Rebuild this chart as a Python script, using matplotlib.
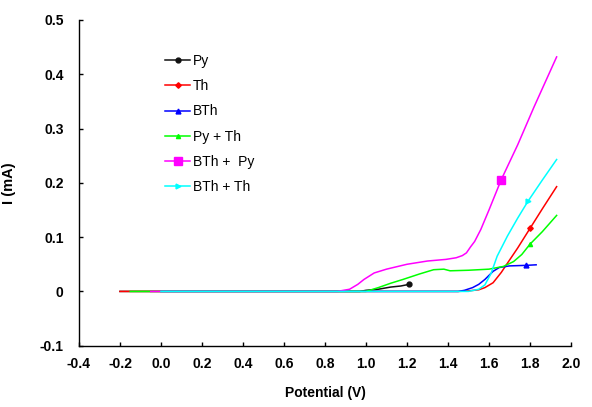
import matplotlib
matplotlib.use('Agg')
import matplotlib.pyplot as plt

plt.rcParams['font.family'] = ['Liberation Sans', 'DejaVu Sans']

# Data (potential in V, current in mA)
py_x = [-0.2, 0.97, 1.0, 1.06, 1.12, 1.17, 1.21]
py_y = [0, 0, 0.002, 0.004, 0.008, 0.010, 0.013]

th_x = [-0.2, 1.45, 1.5, 1.55, 1.58, 1.62, 1.66, 1.69, 1.74, 1.8, 1.86, 1.93]
th_y = [0, 0, 0.001, 0.003, 0.007, 0.016, 0.035, 0.052, 0.08, 0.116, 0.152, 0.193]

bth_x = [0.0, 1.45, 1.48, 1.52, 1.55, 1.58, 1.62, 1.65, 1.7, 1.78, 1.83]
bth_y = [0, 0, 0.002, 0.007, 0.013, 0.022, 0.037, 0.044, 0.047, 0.048, 0.049]

pyth_x = [-0.15, 1.0, 1.06, 1.12, 1.18, 1.26, 1.33, 1.38, 1.41, 1.5, 1.6,
          1.67, 1.72, 1.76, 1.8, 1.86, 1.93]
pyth_y = [0, 0, 0.007, 0.015, 0.022, 0.032, 0.040, 0.041, 0.038, 0.039, 0.041,
          0.046, 0.055, 0.068, 0.087, 0.11, 0.14]

bthpy_x = [-0.05, 0.86, 0.92, 0.96, 0.99, 1.04, 1.1, 1.2, 1.3, 1.39, 1.44, 1.47,
           1.49, 1.51, 1.53, 1.56, 1.6, 1.66, 1.74, 1.82, 1.93]
bthpy_y = [0, 0, 0.004, 0.013, 0.022, 0.034, 0.041, 0.05, 0.056, 0.059, 0.062, 0.066,
           0.071, 0.082, 0.092, 0.114, 0.15, 0.206, 0.27, 0.34, 0.432]

bthth_x = [0.0, 1.5, 1.55, 1.58, 1.61, 1.64, 1.69, 1.74, 1.79, 1.86, 1.93]
bthth_y = [0, 0, 0.004, 0.012, 0.033, 0.065, 0.102, 0.135, 0.166, 0.205, 0.243]

labels = ['Py', 'Th', 'BTh', 'Py + Th', 'BTh +  Py', 'BTh + Th']

x_ticks = [-0.4, -0.2, 0.0, 0.2, 0.4, 0.6, 0.8, 1.0, 1.2, 1.4, 1.6, 1.8, 2.0]
x_ticklabels = ['-0.4', '-0.2', '0.0', '0.2', '0.4', '0.6', '0.8', '1.0', '1.2',
                '1.4', '1.6', '1.8', '2.0']
y_ticks = [-0.1, 0, 0.1, 0.2, 0.3, 0.4, 0.5]
y_ticklabels = ['-0.1', '0', '0.1', '0.2', '0.3', '0.4', '0.5']

fig = plt.figure(figsize=(5.92, 4.07), dpi=100)
ax = fig.add_axes([0.1334, 0.1506, 0.8311, 0.8003])

# series: x, y, colour, marker, size, index of the one shown marker
series = [
    (py_x, py_y, '#111111', 'o', 3.5, [len(py_x) - 1]),
    (th_x, th_y, '#ff0000', 'D', 2.8, [9]),
    (bth_x, bth_y, '#0000ff', '^', 3.5, [9]),
    (pyth_x, pyth_y, '#00ff00', '^', 3, [14]),
    (bthpy_x, bthpy_y, '#ff00ff', 's', 5.5, [17]),
    (bthth_x, bthth_y, '#00ffff', '>', 3.5, [8]),
]

for (x, y, c, m, ms, me), lab in zip(series, labels):
    ax.plot(x, y, color=c, lw=1.1, marker=m, ms=ms, markevery=me, label=lab)

ax.set_xlim(-0.4, 2.0)
ax.set_ylim(-0.1, 0.5)
ax.set_xticks(x_ticks)
ax.set_xticklabels(x_ticklabels, fontweight='bold', fontsize=10)
ax.set_yticks(y_ticks)
ax.set_yticklabels(y_ticklabels, fontweight='bold', fontsize=10)
ax.tick_params(axis='x', direction='in', length=3, width=1, pad=8)
ax.tick_params(axis='y', direction='in', length=3, width=1, pad=11)

ax.spines['top'].set_visible(False)
ax.spines['right'].set_visible(False)
for s in ['left', 'bottom']:
    ax.spines[s].set_linewidth(1.0)

ax.set_xlabel('Potential (V)', fontweight='bold', fontsize=10)
ax.set_ylabel('I (mA)', fontweight='bold', fontsize=10.5)
ax.xaxis.set_label_coords(0.5, -0.123)
ax.yaxis.set_label_coords(-0.128, 0.5)

leg = ax.legend(loc='upper left', bbox_to_anchor=(0.175, 0.895), frameon=False,
                fontsize=10, handlelength=1.8, handletextpad=0.2,
                labelspacing=0.8, borderpad=0, borderaxespad=0)

fig.savefig('out.png', dpi=100)
